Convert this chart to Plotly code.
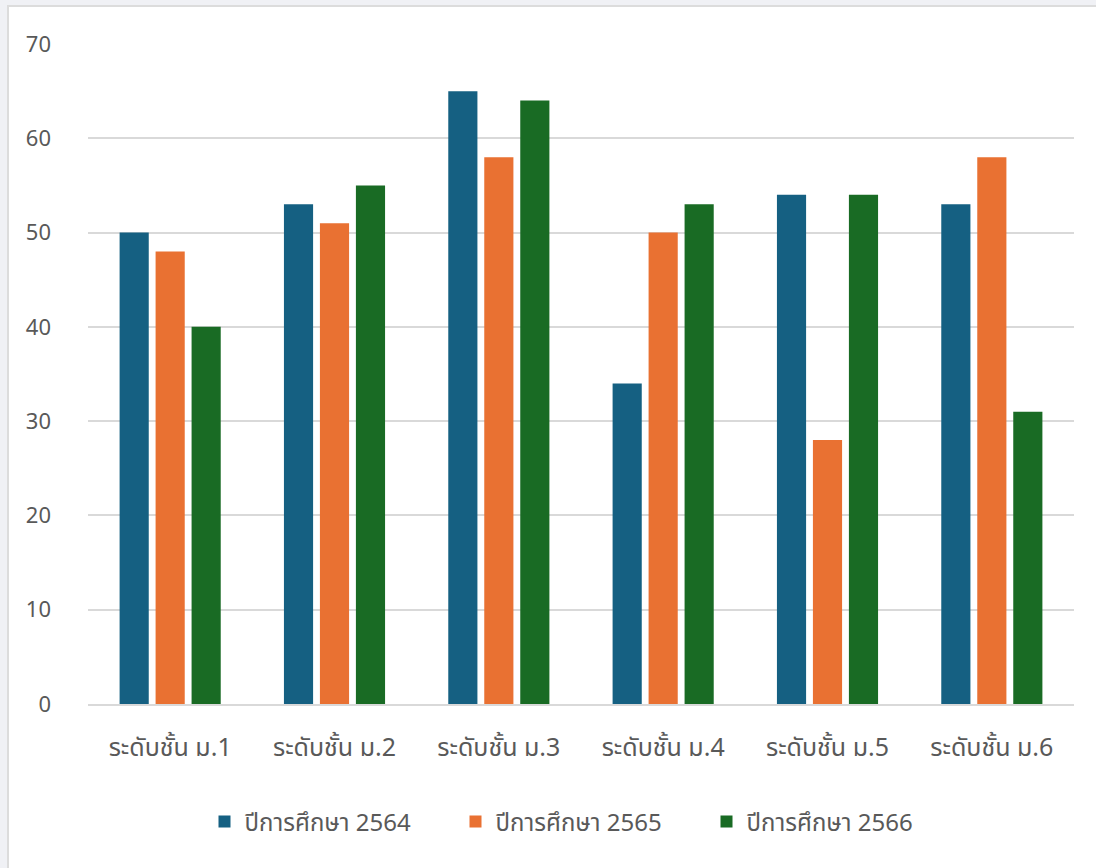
import plotly.graph_objects as go

categories = ["ระดับชั้น ม.1", "ระดับชั้น ม.2", "ระดับชั้น ม.3", "ระดับชั้น ม.4", "ระดับชั้น ม.5", "ระดับชั้น ม.6"]
series_names = ["ปีการศึกษา 2564", "ปีการศึกษา 2565", "ปีการศึกษา 2566"]
values_2564 = [50, 53, 65, 34, 54, 53]
values_2565 = [48, 51, 58, 50, 28, 58]
values_2566 = [40, 55, 64, 53, 54, 31]
colors = ["#156082", "#E97132", "#196B24"]

W, H = 1096, 868
ml, mr, mt, mb = 88, 22, 44, 164
pw, ph = W - ml - mr, H - mt - mb

def px_x(p):
    return (p - ml) / pw

def px_y(p):
    return (H - mb - p) / ph

fig = go.Figure()
for name, vals, c in zip(series_names, [values_2564, values_2565, values_2566], colors):
    fig.add_trace(go.Bar(x=categories, y=vals, name=name, marker=dict(color=c, line=dict(width=0))))

font_family = "Noto Sans Thai, Noto Sans, Tahoma, sans-serif"

fig.update_layout(
    width=W, height=H,
    margin=dict(l=ml, r=mr, t=mt, b=mb),
    paper_bgcolor="#f0f1f5",
    plot_bgcolor="rgba(0,0,0,0)",
    barmode="group",
    bargap=0.343,
    bargroupgap=0.19,
    font=dict(family=font_family, color="#595959", size=22),
    showlegend=True,
    legend=dict(orientation="h", x=0.5, xanchor="center", y=px_y(822), yanchor="middle",
                bgcolor="rgba(0,0,0,0)",
                font=dict(size=24, color="#595959"), itemwidth=30, traceorder="normal",
                entrywidth=206, entrywidthmode="pixels"),
    xaxis=dict(showgrid=False, showline=True, linecolor="#d9d9d9", linewidth=2,
               ticks="", tickfont=dict(size=25, color="#595959"), ticklabelstandoff=20),
    yaxis=dict(range=[0, 70], dtick=10, showgrid=True, gridcolor="#d9d9d9", gridwidth=1.5,
               zeroline=False, showline=False, ticks="", tickfont=dict(size=22, color="#595959"),
               ticklabelstandoff=36),
    shapes=[dict(type="rect", xref="paper", yref="paper",
                 x0=px_x(8), x1=px_x(W + 10), y0=px_y(6), y1=px_y(H + 10),
                 fillcolor="white", line=dict(color="#dcdcdc", width=2), layer="below")],
)

fig.write_html("out.html", config={"displayModeBar": False},
               post_script="document.body.style.margin='0px';")
